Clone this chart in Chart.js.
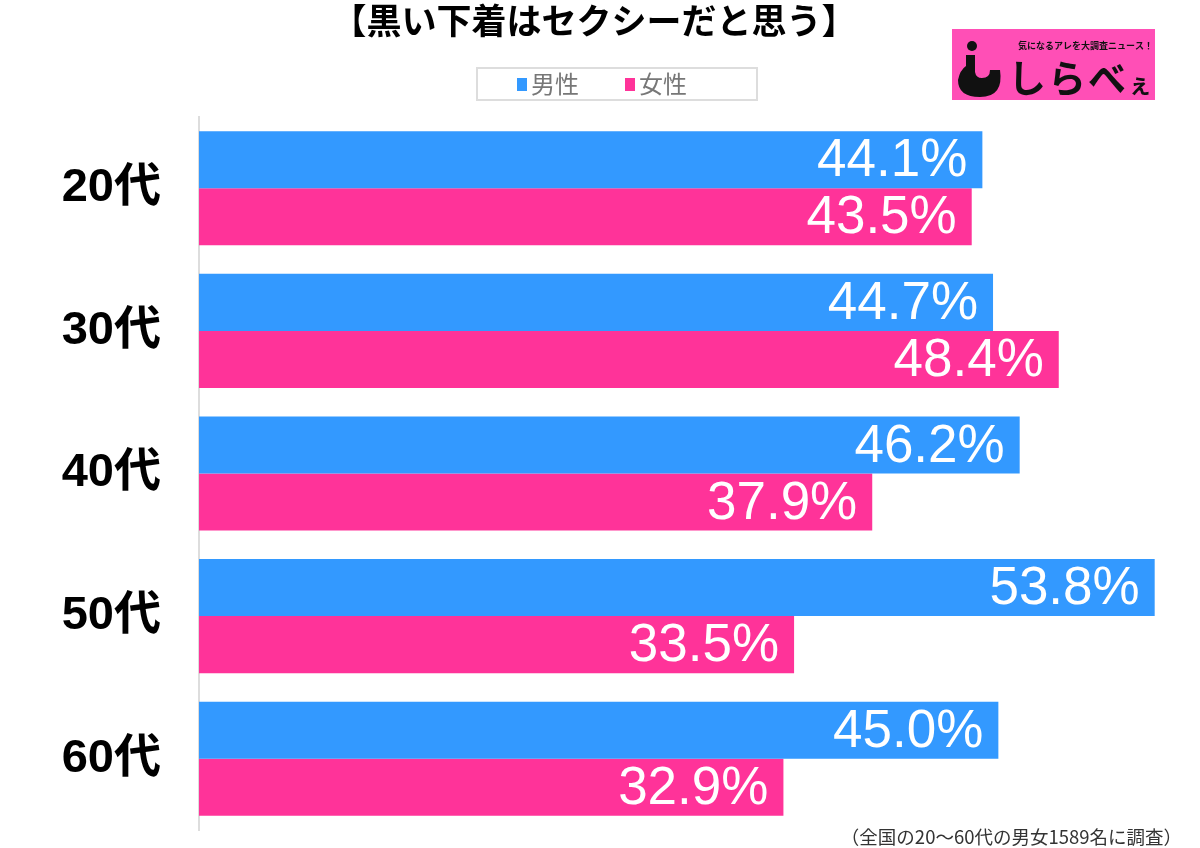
<!DOCTYPE html>
<html>
<head>
<meta charset="utf-8">
<script src="https://cdn.jsdelivr.net/npm/chart.js@4"></script>
<style>
  html, body { margin: 0; padding: 0; background: #fff; }
  #wrap { width: 1200px; height: 848px; position: relative; }
</style>
</head>
<body>
<div id="wrap"><canvas id="chart" width="1200" height="848"></canvas></div>
<script>
// données
const categories = ["20代", "30代", "40代", "50代", "60代"];
const maleValues = [44.1, 44.7, 46.2, 53.8, 45.0];
const femaleValues = [43.5, 48.4, 37.9, 33.5, 32.9];
const seriesNames = ["男性", "女性"];
const titleText = "【黒い下着はセクシーだと思う】";
const noteText = "（全国の20〜60代の男女1589名に調査）";

const blue = "#3399ff";
const pink = "#ff3399";

// titre, légende, logo et note
const decorPlugin = {
  id: "decor",
  afterDraw(chart) {
    const ctx = chart.ctx;
    ctx.save();
    // titre
    ctx.fillStyle = "#000";
    ctx.font = "bold 35px 'Noto Sans CJK JP'";
    ctx.textAlign = "center";
    ctx.textBaseline = "middle";
    ctx.fillText(titleText, 594, 21);

    // légende
    ctx.strokeStyle = "#dddddd";
    ctx.lineWidth = 2;
    ctx.strokeRect(477, 68, 280, 32);
    ctx.font = "24px 'Noto Sans CJK JP'";
    ctx.textAlign = "left";
    const items = [
      { x: 517, color: blue, label: seriesNames[0] },
      { x: 625, color: pink, label: seriesNames[1] },
    ];
    items.forEach((it) => {
      ctx.fillStyle = it.color;
      ctx.fillRect(it.x, 78, 10, 13);
      ctx.fillStyle = "#777";
      ctx.fillText(it.label, it.x + 14, 84);
    });

    // logo
    ctx.fillStyle = "#ff4fb6";
    ctx.fillRect(952, 29, 203, 71);
    ctx.fillStyle = "#111";
    ctx.beginPath();
    ctx.arc(972, 46, 5, 0, Math.PI * 2);
    ctx.fill();
    ctx.beginPath();
    ctx.moveTo(966, 55);
    ctx.lineTo(975, 55);
    ctx.lineTo(975, 72);
    ctx.quadraticCurveTo(976, 78, 982, 78);
    ctx.quadraticCurveTo(990, 78, 990, 70);
    ctx.lineTo(1000, 70);
    ctx.quadraticCurveTo(1004, 97, 980, 97);
    ctx.quadraticCurveTo(958, 97, 958, 80);
    ctx.quadraticCurveTo(960, 70, 966, 66);
    ctx.closePath();
    ctx.fill();
    ctx.fillStyle = "#111";
    ctx.font = "bold 9px 'Noto Sans CJK JP'";
    ctx.textAlign = "left";
    ctx.fillText("気になるアレを大調査ニュース！", 1018, 46);
    ctx.font = "bold 38px 'Noto Sans CJK JP'";
    ctx.fillText("し", 1008, 78);
    ctx.fillText("ら", 1048, 78);
    ctx.fillText("べ", 1088, 78);
    ctx.font = "bold 24px 'Noto Sans CJK JP'";
    ctx.fillText("ぇ", 1128, 84);

    // note
    ctx.fillStyle = "#333";
    ctx.font = "18.5px 'Noto Sans CJK JP'";
    ctx.textAlign = "right";
    ctx.fillText(noteText, 1182, 837);
    ctx.restore();
  },
};

// étiquettes de valeur dans les barres
const valueLabels = {
  id: "valueLabels",
  afterDatasetsDraw(chart) {
    const ctx = chart.ctx;
    ctx.save();
    ctx.fillStyle = "#fff";
    ctx.font = "53px 'Liberation Sans'";
    ctx.textAlign = "right";
    ctx.textBaseline = "middle";
    chart.data.datasets.forEach((ds, i) => {
      chart.getDatasetMeta(i).data.forEach((bar, j) => {
        ctx.fillText(ds.data[j].toFixed(1) + "%", bar.x - 15, bar.y + 2);
      });
    });
    ctx.restore();
  },
};

new Chart(document.getElementById("chart"), {
  type: "bar",
  data: {
    labels: categories,
    datasets: [
      { label: seriesNames[0], data: maleValues, backgroundColor: blue },
      { label: seriesNames[1], data: femaleValues, backgroundColor: pink },
    ],
  },
  options: {
    indexAxis: "y",
    responsive: false,
    animation: false,
    events: [],
    categoryPercentage: 0.8,
    barPercentage: 1.0,
    layout: { padding: { top: 117, bottom: 18, right: 24, left: 0 } },
    scales: {
      x: { display: false, min: 0, max: 55 },
      y: {
        grid: { display: false, drawTicks: false },
        border: { display: true, color: "#dddddd", width: 2 },
        ticks: {
          color: "#000",
          padding: 38,
          font: { family: "'Liberation Sans', 'Noto Sans CJK JP'", size: 47, weight: "bold" },
        },
        afterFit(scale) {
          scale.width = 199;
          scale.paddingTop = 0;
          scale.paddingBottom = 0;
        },
      },
    },
    plugins: {
      legend: { display: false },
      title: { display: false },
      tooltip: { enabled: false },
    },
  },
  plugins: [valueLabels, decorPlugin],
});
</script>
</body>
</html>
